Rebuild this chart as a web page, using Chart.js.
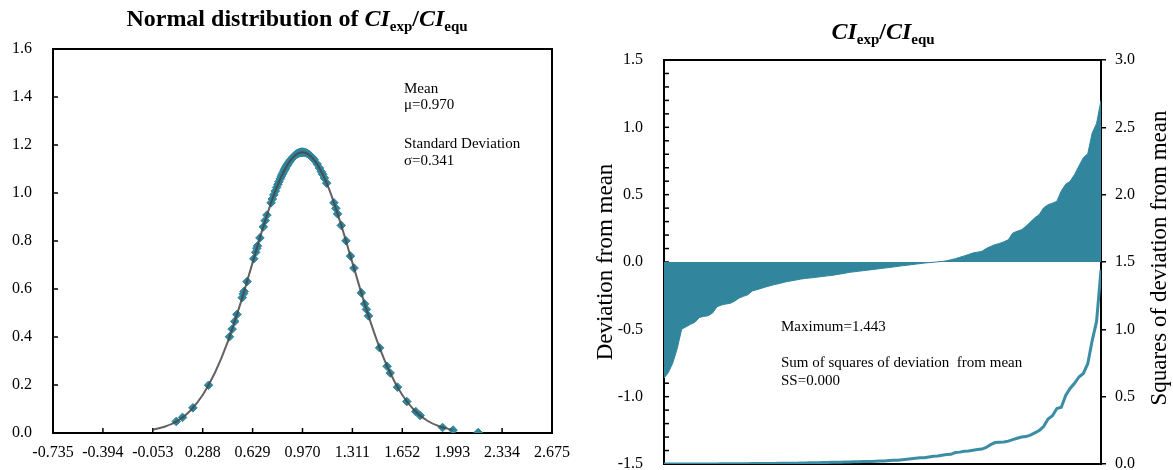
<!DOCTYPE html>
<html><head><meta charset="utf-8">
<script src="https://cdn.jsdelivr.net/npm/chart.js@4/dist/chart.umd.min.js"></script>
<style>
html,body{margin:0;padding:0;background:#fff;}
#wrap{position:relative;width:1173px;height:470px;overflow:hidden;}
#c1{position:absolute;left:0;top:0;}
#c2{position:absolute;left:580px;top:0;}
</style></head><body>
<div id="wrap">
<canvas id="c1" width="580" height="470"></canvas>
<canvas id="c2" width="593" height="470"></canvas>
</div>
<script>
// ---------- data ----------
const xTickValues = [-0.735,-0.394,-0.053,0.288,0.629,0.970,1.311,1.652,1.993,2.334,2.675];
const curveX = [-0.053,0.032,0.118,0.203,0.288,0.373,0.459,0.544,0.629,0.714,0.800,0.885,0.970,1.055,1.141,1.226,1.311,1.396,1.482,1.567,1.652,1.737,1.823,1.908,1.993];
const curveY = [0.013,0.027,0.051,0.093,0.158,0.253,0.380,0.536,0.710,0.883,1.033,1.134,1.170,1.134,1.033,0.883,0.710,0.536,0.380,0.253,0.158,0.093,0.051,0.027,0.013];
const sampleX = [
0.107,0.150,0.221,0.328,0.471,0.489,0.507,0.522,0.558,0.566,
0.571,0.591,0.637,0.650,0.658,0.663,0.679,0.702,0.715,0.727,
0.755,0.764,0.774,0.784,0.793,0.802,0.809,0.818,0.825,0.831,
0.837,0.843,0.848,0.851,0.855,0.859,0.863,0.867,0.870,0.876,
0.881,0.887,0.893,0.897,0.901,0.905,0.909,0.913,0.917,0.921,
0.925,0.929,0.933,0.938,0.942,0.946,0.950,0.954,0.958,0.962,
0.965,0.968,0.971,0.974,0.979,0.986,0.995,1.005,1.015,1.026,
1.037,1.043,1.049,1.070,1.086,1.099,1.108,1.120,1.135,1.185,
1.198,1.210,1.235,1.267,1.298,1.322,1.372,1.395,1.407,1.421,
1.497,1.548,1.569,1.619,1.683,1.744,1.774,1.927,1.999,2.171];
const sampleY = [
0.048,0.065,0.105,0.199,0.401,0.433,0.465,0.494,0.564,0.580,
0.590,0.631,0.726,0.753,0.770,0.780,0.813,0.859,0.885,0.908,
0.959,0.975,0.992,1.008,1.023,1.036,1.047,1.059,1.069,1.077,
1.084,1.092,1.097,1.101,1.105,1.110,1.114,1.118,1.121,1.127,
1.131,1.136,1.141,1.144,1.146,1.149,1.152,1.154,1.156,1.158,
1.160,1.162,1.163,1.165,1.166,1.167,1.168,1.169,1.169,1.170,
1.170,1.170,1.170,1.170,1.170,1.169,1.167,1.164,1.160,1.154,
1.148,1.144,1.139,1.121,1.104,1.089,1.078,1.062,1.041,0.959,
0.936,0.913,0.865,0.801,0.737,0.687,0.584,0.538,0.515,0.488,
0.355,0.278,0.250,0.191,0.131,0.089,0.073,0.023,0.012,0.002];
const deviation = [
-0.863,-0.820,-0.749,-0.642,-0.499,-0.481,-0.463,-0.448,-0.412,-0.404,
-0.399,-0.379,-0.333,-0.320,-0.312,-0.307,-0.291,-0.268,-0.255,-0.243,
-0.215,-0.206,-0.196,-0.186,-0.177,-0.168,-0.161,-0.152,-0.145,-0.139,
-0.133,-0.127,-0.122,-0.119,-0.115,-0.111,-0.107,-0.103,-0.100,-0.094,
-0.089,-0.083,-0.077,-0.073,-0.069,-0.065,-0.061,-0.057,-0.053,-0.049,
-0.045,-0.041,-0.037,-0.032,-0.028,-0.024,-0.020,-0.016,-0.012,-0.008,
-0.005,-0.002,0.001,0.004,0.009,0.016,0.025,0.035,0.045,0.056,
0.067,0.073,0.079,0.100,0.116,0.129,0.138,0.150,0.165,0.215,
0.228,0.240,0.265,0.297,0.328,0.352,0.402,0.425,0.437,0.451,
0.527,0.578,0.599,0.649,0.713,0.774,0.804,0.957,1.029,1.201];
const squaredDeviation = [
0.0000,0.0000,0.0000,0.0000,0.0001,0.0001,0.0001,0.0003,0.0003,0.0004,
0.0006,0.0006,0.0008,0.0010,0.0012,0.0014,0.0017,0.0020,0.0020,0.0024,
0.0028,0.0031,0.0032,0.0037,0.0042,0.0045,0.0048,0.0053,0.0053,0.0059,
0.0062,0.0069,0.0079,0.0088,0.0100,0.0100,0.0106,0.0114,0.0123,0.0132,
0.0135,0.0142,0.0149,0.0161,0.0166,0.0177,0.0190,0.0193,0.0210,0.0225,
0.0231,0.0259,0.0272,0.0282,0.0313,0.0346,0.0384,0.0424,0.0462,0.0462,
0.0520,0.0576,0.0590,0.0650,0.0702,0.0718,0.0847,0.0882,0.0942,0.0973,
0.1024,0.1076,0.1109,0.1239,0.1436,0.1592,0.1616,0.1632,0.1697,0.1806,
0.1910,0.2007,0.2034,0.2144,0.2314,0.2490,0.2777,0.3341,0.3588,0.4122,
0.4212,0.5084,0.5610,0.5991,0.6464,0.6724,0.7448,0.9158,1.0588,1.4424];
const leftNotes = ['Mean','\u03bc=0.970','Standard Deviation','\u03c3=0.341'];
const rightNotes = ['Maximum=1.443','Sum of squares of deviation  from mean','SS=0.000'];

// ---------- helpers ----------
const SERIF = '"Liberation Serif","Times New Roman",serif';
const TEAL = '#31859C';
function titleParts(prefix){
  const big = 'bold 24px ' + SERIF, bi = 'italic bold 24px ' + SERIF, sub = 'bold 15px ' + SERIF;
  const p = [];
  if (prefix) p.push({t:prefix, f:big});
  p.push({t:'CI', f:bi},{t:'exp', f:sub, dy:5},{t:'/', f:big},{t:'CI', f:bi},{t:'equ', f:sub, dy:5});
  return p;
}
function drawRich(ctx, parts, cx, base){
  let total = 0;
  parts.forEach(p => { ctx.font = p.f; p.w = ctx.measureText(p.t).width; total += p.w; });
  let x = cx - total/2;
  ctx.textAlign = 'left'; ctx.textBaseline = 'alphabetic'; ctx.fillStyle = '#000';
  parts.forEach(p => { ctx.font = p.f; ctx.fillText(p.t, x, base + (p.dy||0)); x += p.w; });
}
function seg(ctx,x1,y1,x2,y2){ ctx.beginPath(); ctx.moveTo(x1,y1); ctx.lineTo(x2,y2); ctx.stroke(); }
const tickFont = {family: SERIF, size: 16};
function fixWidth(w){ return s => { s.width = w; s.paddingTop = 0; s.paddingBottom = 0; }; }

// ---------- left chart ----------
const leftDecor = {
  id:'leftDecor',
  beforeDatasetsDraw(chart){
    const {ctx, chartArea:a, scales:{x,y}} = chart;
    ctx.save();
    ctx.strokeStyle = '#000'; ctx.lineWidth = 2;
    ctx.strokeRect(a.left, a.top, a.right-a.left, a.bottom-a.top);
    ctx.lineWidth = 1.5;
    xTickValues.forEach(v => { const px = x.getPixelForValue(v); seg(ctx, px, a.bottom, px, a.bottom-5); });
    y.ticks.forEach(t => { const py = y.getPixelForValue(t.value); seg(ctx, a.left, py, a.left+5, py); });
    ctx.restore();
  },
  afterDraw(chart){
    const ctx = chart.ctx;
    ctx.save();
    drawRich(ctx, titleParts('Normal distribution of '), 297, 26);
    ctx.font = '15px ' + SERIF; ctx.fillStyle = '#000'; ctx.textAlign = 'left'; ctx.textBaseline = 'alphabetic';
    const ys = [93, 109, 148, 165];
    leftNotes.forEach((s,i) => ctx.fillText(s, 404, ys[i]));
    ctx.restore();
  }
};
new Chart(document.getElementById('c1'), {
  type: 'scatter',
  data: { datasets: [
    { type:'line', data: curveX.map((x,i)=>({x, y:curveY[i]})), borderColor:'rgba(70,70,70,0.85)', borderWidth:2,
      pointRadius:0, fill:false, cubicInterpolationMode:'monotone', order:0 },
    { type:'scatter', data: sampleX.map((x,i)=>({x, y:sampleY[i]})), pointStyle:'rectRot', pointRadius:4.3,
      backgroundColor:TEAL, borderColor:TEAL, borderWidth:1, order:1 }
  ]},
  options: {
    responsive:false, maintainAspectRatio:false, animation:false, events:[],
    layout:{ padding:{ left:0, right:26, top:49, bottom:0 } },
    plugins:{ legend:{display:false}, tooltip:{enabled:false}, title:{display:false} },
    scales:{
      x:{ type:'linear', min:-0.735, max:2.675,
          afterBuildTicks: s => { s.ticks = xTickValues.map(v => ({value:v})); },
          afterFit: s => { s.height = 37; },
          grid:{display:false, drawTicks:false}, border:{display:false},
          ticks:{ font:tickFont, color:'#000', padding:10, maxRotation:0, autoSkip:false,
                  callback: v => Number(v).toFixed(3) } },
      y:{ type:'linear', min:0, max:1.6,
          afterFit: fixWidth(53),
          grid:{display:false, drawTicks:false}, border:{display:false},
          ticks:{ stepSize:0.2, font:tickFont, color:'#000', padding:21, callback: v => Number(v).toFixed(1) } }
    }
  },
  plugins:[leftDecor]
});

// ---------- right chart ----------
const rightDecor = {
  id:'rightDecor',
  beforeDatasetsDraw(chart){
    const {ctx, chartArea:a, scales:{y}} = chart;
    ctx.save();
    ctx.strokeStyle = '#000'; ctx.lineWidth = 2;
    ctx.strokeRect(a.left, a.top, a.right-a.left, a.bottom-a.top);
    ctx.lineWidth = 1.5;
    for (let k = -15; k <= 15; k++) { const py = y.getPixelForValue(k/10); seg(ctx, a.left, py, a.left+5, py); }
    ctx.restore();
  },
  afterDraw(chart){
    const ctx = chart.ctx;
    ctx.save();
    drawRich(ctx, titleParts(''), 303, 39);
    ctx.fillStyle = '#000';
    ctx.font = '23px ' + SERIF; ctx.textAlign = 'center'; ctx.textBaseline = 'middle';
    ctx.save(); ctx.translate(26, 262); ctx.rotate(-Math.PI/2); ctx.fillText('Deviation from mean', 0, 0); ctx.restore();
    ctx.save(); ctx.translate(580, 258); ctx.rotate(-Math.PI/2); ctx.fillText('Squares of deviation from mean', 0, 0); ctx.restore();
    ctx.font = '15px ' + SERIF; ctx.textAlign = 'left'; ctx.textBaseline = 'alphabetic';
    const ys = [331, 367, 385];
    rightNotes.forEach((s,i) => ctx.fillText(s, 201, ys[i]));
    ctx.restore();
  }
};
new Chart(document.getElementById('c2'), {
  type: 'line',
  data: { datasets: [
    { data: squaredDeviation.map((v,i)=>({x:i, y:v})), yAxisID:'y2', borderColor:'#3A8DA4', borderWidth:3,
      pointRadius:0, fill:false, tension:0, order:0 },
    { data: deviation.map((v,i)=>({x:i, y:v})), yAxisID:'y', borderColor:TEAL, borderWidth:1,
      backgroundColor:TEAL, pointRadius:0, fill:'origin', tension:0, order:1 }
  ]},
  options: {
    responsive:false, maintainAspectRatio:false, animation:false, events:[],
    layout:{ padding:{ left:0, right:0, top:60, bottom:6 } },
    plugins:{ legend:{display:false}, tooltip:{enabled:false}, filler:{propagate:false} },
    scales:{
      x:{ type:'linear', min:0, max:deviation.length-1, display:true,
          afterFit: s => { s.height = 0; },
          ticks:{display:false}, grid:{display:false, drawTicks:false}, border:{display:false} },
      y:{ position:'left', min:-1.5, max:1.5,
          afterFit: fixWidth(84),
          grid:{display:false, drawTicks:false}, border:{display:false},
          ticks:{ stepSize:0.5, font:tickFont, color:'#000', padding:21, callback: v => Number(v).toFixed(1) } },
      y2:{ position:'right', min:0, max:3,
          afterFit: fixWidth(72),
          grid:{ display:true, drawOnChartArea:false, drawTicks:true, tickLength:5, color:'#000', lineWidth:1.5 },
          border:{display:false},
          ticks:{ stepSize:0.5, font:tickFont, color:'#000', padding:9, callback: v => Number(v).toFixed(1) } }
    }
  },
  plugins:[rightDecor]
});
</script>
</body></html>
